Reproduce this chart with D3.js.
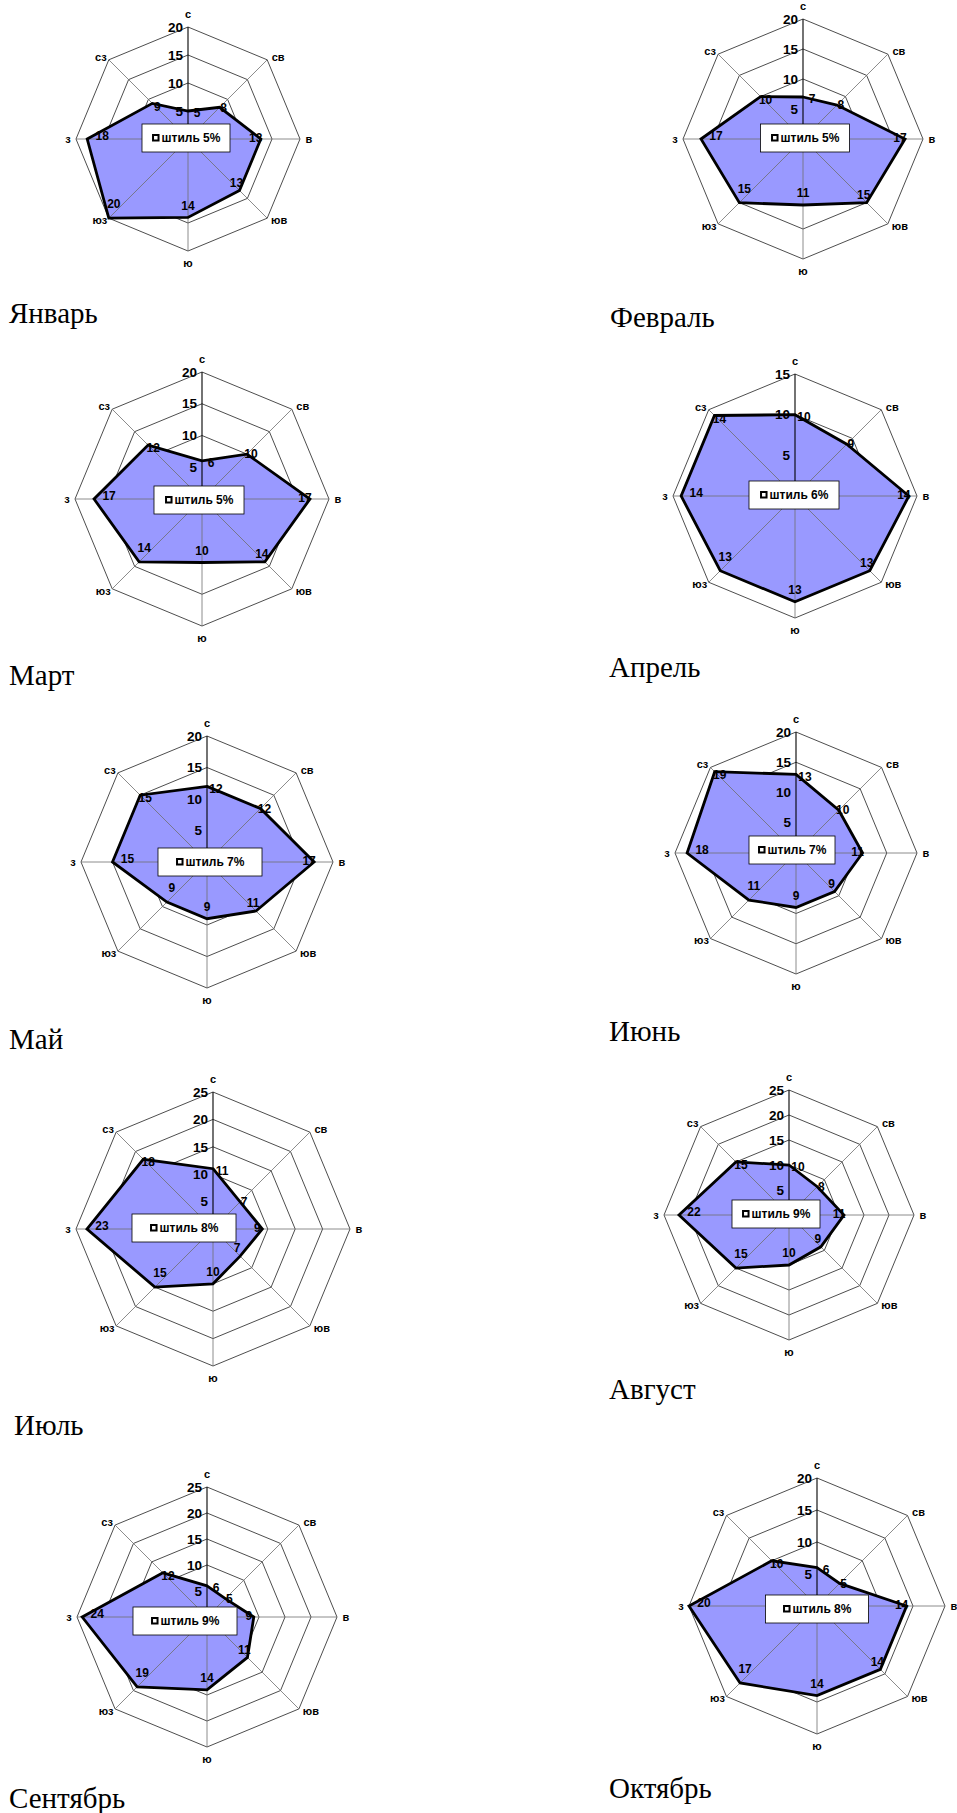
<!DOCTYPE html>
<html>
<head>
<meta charset="utf-8">
<script src="https://cdn.jsdelivr.net/npm/d3@7"></script>
<style>
  body { margin: 0; background: #fff; }
  svg { display: block; }
</style>
</head>
<body>
<svg id="chart" width="957" height="1813"></svg>
<script>
// Wind rose data: repeat frequency (%) by direction, per month
const directions = ["с", "св", "в", "юв", "ю", "юз", "з", "сз"];
const months = ["Январь", "Февраль", "Март", "Апрель", "Май", "Июнь", "Июль", "Август", "Сентябрь", "Октябрь"];
const calmPercent = [5, 5, 5, 6, 7, 7, 8, 9, 9, 8];
const axisMax = [20, 20, 20, 15, 20, 20, 25, 25, 25, 20];

const january   = [5, 8, 13, 13, 14, 20, 18, 9];
const february  = [7, 8, 17, 15, 11, 15, 17, 10];
const march     = [6, 10, 17, 14, 10, 14, 17, 12];
const april     = [10, 9, 14, 13, 13, 13, 14, 14];
const may       = [12, 12, 17, 11, 9, 9, 15, 15];
const june      = [13, 10, 11, 9, 9, 11, 18, 19];
const july      = [11, 7, 9, 7, 10, 15, 23, 18];
const august    = [10, 8, 11, 9, 10, 15, 22, 15];
const september = [6, 5, 9, 11, 14, 19, 24, 12];
const october   = [6, 5, 14, 14, 14, 17, 20, 10];

const series = [january, february, march, april, may, june, july, august, september, october];

// Panel geometry: chart centre, outer radius, calm-box offset/width, month caption position
const panels = [
  { cx: 188, cy: 139, r: 112, boxDx: -2,  boxDy: -1, boxW: 88,  tx: 9,   ty: 323 },
  { cx: 803, cy: 139, r: 120, boxDx: 2,   boxDy: -1, boxW: 89,  tx: 610, ty: 327 },
  { cx: 202, cy: 499, r: 127, boxDx: -3,  boxDy: 1,  boxW: 90,  tx: 9,   ty: 685 },
  { cx: 795, cy: 496, r: 122, boxDx: -1,  boxDy: -1, boxW: 90,  tx: 609, ty: 677 },
  { cx: 207, cy: 862, r: 126, boxDx: 3,   boxDy: 0,  boxW: 104, tx: 9,   ty: 1049 },
  { cx: 796, cy: 853, r: 121, boxDx: -4,  boxDy: -3, boxW: 86,  tx: 609, ty: 1041 },
  { cx: 213, cy: 1229, r: 137, boxDx: -29, boxDy: -1, boxW: 104, tx: 14,  ty: 1435 },
  { cx: 789, cy: 1215, r: 125, boxDx: -13, boxDy: -1, boxW: 88,  tx: 609, ty: 1399 },
  { cx: 207, cy: 1617, r: 130, boxDx: -22, boxDy: 4,  boxW: 104, tx: 9,   ty: 1808 },
  { cx: 817, cy: 1606, r: 128, boxDx: 0,   boxDy: 3,  boxW: 103, tx: 609, ty: 1798 }
];

// Value-label nudge per direction (screen px)
const labelNudge = [[9, 2], [4, 0], [-5, -1], [-3, -8], [0, -12], [5, -14], [15, -3], [5, 3]];
// Direction-name offset from the outer vertex
const catNudge = [[0, -13], [11, -3], [9, 0], [12, 2], [0, 12], [-9, 2], [-8, 0], [-8, -3]];

const svg = d3.select("#chart");
const angle = d3.scalePoint().domain(directions.map((d, i) => i)).range([0, 2 * Math.PI * 7 / 8]);
const sans = "Arial, 'Liberation Sans', sans-serif";

series.forEach((values, k) => {
  const p = panels[k];
  const max = axisMax[k];
  const r = d3.scaleLinear().domain([0, max]).range([0, p.r]);
  const ticks = d3.range(5, max + 1, 5);
  const g = svg.append("g").attr("transform", `translate(${p.cx},${p.cy})`);

  const radial = d3.lineRadial()
    .angle((d, i) => angle(i))
    .radius(d => r(d))
    .curve(d3.curveLinearClosed);

  const pt = (i, v) => {
    const a = angle(i);
    return [r(v) * Math.sin(a), -r(v) * Math.cos(a)];
  };

  // ring gridlines (under the area)
  g.selectAll("path.ring").data(ticks).join("path")
    .attr("class", "ring")
    .attr("d", t => radial(directions.map(() => t)))
    .attr("fill", "none")
    .attr("stroke", "#000")
    .attr("stroke-width", 0.7);

  // filled area
  g.append("path")
    .attr("d", radial(values))
    .attr("fill", "#9999ff")
    .attr("stroke", "none");

  // spokes (drawn over the area)
  g.selectAll("line.spoke").data(directions).join("line")
    .attr("class", "spoke")
    .attr("x1", 0).attr("y1", 0)
    .attr("x2", (d, i) => pt(i, max)[0])
    .attr("y2", (d, i) => pt(i, max)[1])
    .attr("stroke", (d, i) => i === 0 ? "#000" : "#6e6e6e")
    .attr("stroke-width", (d, i) => i === 0 ? 1.1 : 0.8);

  // outline of the series
  g.append("path")
    .attr("d", radial(values))
    .attr("fill", "none")
    .attr("stroke", "#000")
    .attr("stroke-width", 2.8)
    .attr("stroke-linejoin", "miter");

  // value axis tick labels
  g.selectAll("text.tick").data(ticks).join("text")
    .attr("class", "tick")
    .attr("x", -5)
    .attr("y", t => -r(t))
    .attr("dy", "0.35em")
    .attr("text-anchor", "end")
    .attr("font-family", sans)
    .attr("font-weight", "bold")
    .attr("font-size", 13.5)
    .attr("fill", "#000")
    .text(t => t);

  // direction names
  g.selectAll("text.cat").data(directions).join("text")
    .attr("class", "cat")
    .attr("x", (d, i) => pt(i, max)[0] + catNudge[i][0])
    .attr("y", (d, i) => pt(i, max)[1] + catNudge[i][1])
    .attr("dy", "0.35em")
    .attr("text-anchor", "middle")
    .attr("font-family", sans)
    .attr("font-weight", "bold")
    .attr("font-size", 11)
    .attr("fill", "#000")
    .text(d => d);

  // calm legend box
  const box = g.append("g").attr("transform", `translate(${p.boxDx},${p.boxDy})`);
  box.append("rect")
    .attr("x", -p.boxW / 2).attr("y", -14)
    .attr("width", p.boxW).attr("height", 28)
    .attr("fill", "#fff")
    .attr("stroke", "#000")
    .attr("stroke-width", 0.8);
  const txt = box.append("text")
    .attr("x", 5)
    .attr("y", 0)
    .attr("dy", "0.35em")
    .attr("text-anchor", "middle")
    .attr("font-family", sans)
    .attr("font-weight", "bold")
    .attr("font-size", 12)
    .attr("fill", "#000")
    .text(`штиль ${calmPercent[k]}%`);
  const tw = txt.node().getComputedTextLength();
  box.append("rect")
    .attr("x", 5 - tw / 2 - 8.5).attr("y", -3)
    .attr("width", 5.5).attr("height", 5.5)
    .attr("fill", "#fff")
    .attr("stroke", "#000")
    .attr("stroke-width", 2);

  // value labels
  g.selectAll("text.val").data(values).join("text")
    .attr("class", "val")
    .attr("x", (v, i) => pt(i, v)[0] + labelNudge[i][0])
    .attr("y", (v, i) => pt(i, v)[1] + labelNudge[i][1])
    .attr("dy", "0.35em")
    .attr("text-anchor", "middle")
    .attr("font-family", sans)
    .attr("font-weight", "bold")
    .attr("font-size", 12)
    .attr("fill", "#000")
    .text(v => v);

  // month caption
  svg.append("text")
    .attr("x", p.tx)
    .attr("y", p.ty)
    .attr("font-family", "'Times New Roman', 'Liberation Serif', serif")
    .attr("font-size", 29)
    .attr("fill", "#000")
    .text(months[k]);
});
</script>
</body>
</html>
